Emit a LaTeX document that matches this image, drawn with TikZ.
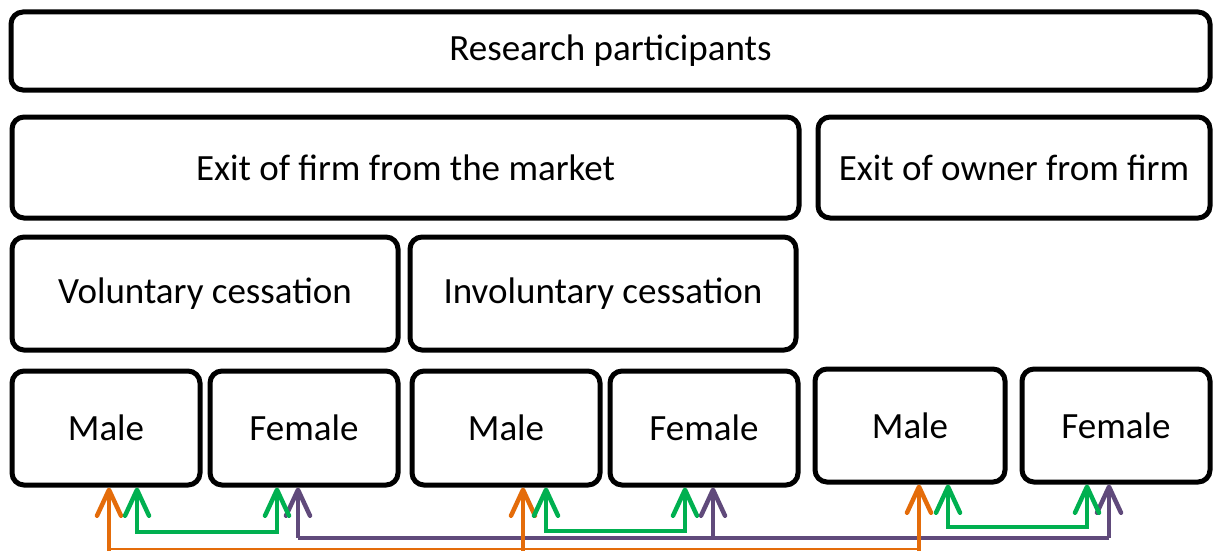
\documentclass[tikz,border=0pt]{standalone}
\usepackage{fontspec}
\setmainfont{Carlito}
\usetikzlibrary{arrows.meta}
\definecolor{corange}{HTML}{E46C0A}
\definecolor{cgreen}{HTML}{00B050}
\definecolor{cpurple}{HTML}{604A7B}
\tikzset{
  box/.style={draw, line width=5pt, rounded corners=12pt, inner sep=0pt,
    font=\fontsize{37}{42}\selectfont},
  barb/.tip={Straight Barb[length=26pt,width=24pt,round]},
  oarrow/.style={draw=corange, line width=4.5pt, -barb},
  oline/.style={draw=corange, line width=2.5pt},
  garrow/.style={draw=cgreen, line width=4.5pt, barb-barb},
  parrow/.style={draw=cpurple, line width=4.5pt, -barb},
  pline/.style={draw=cpurple, line width=4.5pt},
}
\begin{document}
\begin{tikzpicture}[x=1pt,y=-1pt]
\useasboundingbox (0,0) rectangle (1220,551);
\node[box, minimum width=1199pt, minimum height=78pt] (rp) at (610.5,51) {Research participants};
\node[box, minimum width=787pt, minimum height=101pt] (ef) at (405.5,167.5) {Exit of firm from the market};
\node[box, minimum width=392pt, minimum height=101pt] (eo) at (1014,167.5) {Exit of owner from firm};
\node[box, minimum width=386pt, minimum height=113pt] (vc) at (205,293.5) {Voluntary cessation};
\node[box, minimum width=386pt, minimum height=113pt] (ic) at (603,293.5) {Involuntary cessation};
\node[box, minimum width=188pt, minimum height=114pt] (m1) at (106,428) {Male};
\node[box, minimum width=188pt, minimum height=114pt] (f1) at (304,428) {Female};
\node[box, minimum width=188pt, minimum height=114pt] (m2) at (506,428) {Male};
\node[box, minimum width=188pt, minimum height=114pt] (f2) at (704,428) {Female};
\node[box, minimum width=190pt, minimum height=113pt] (m3) at (910,425.5) {Male};
\node[box, minimum width=188pt, minimum height=113pt] (f3) at (1116,425.5) {Female};
% orange
\coordinate (o1) at (109,549);
\coordinate (o2) at (523,549);
\coordinate (o3) at (919,549);
\coordinate (o1b) at (109,551);
\coordinate (o2b) at (523,551);
\coordinate (o3b) at (919,551);
\draw[oline] (o1) -- (o3);
% purple
\coordinate (p1) at (298,538);
\coordinate (p2) at (713,538);
\coordinate (p3) at (1109,538);
\draw[pline, line cap=butt] (p1) -- (p3);
\draw[parrow] (p1) -- (p1 |- f1.south);
\draw[parrow] (p2) -- (p2 |- f2.south);
\draw[parrow] (p3) -- (p3 |- f3.south);
\draw[oarrow] (o1b) -- (o1 |- m1.south);
\draw[oarrow] (o2b) -- (o2 |- m2.south);
\draw[oarrow] (o3b) -- (o3 |- m3.south);
% green
\coordinate (g1a) at (137,532);
\coordinate (g1b) at (277,532);
\coordinate (g2a) at (546,531);
\coordinate (g2b) at (685,531);
\coordinate (g3a) at (948,527);
\coordinate (g3b) at (1087,527);
\draw[garrow] (g1a |- m1.south) -- (g1a) -- (g1b) -- (g1b |- f1.south);
\draw[garrow] (g2a |- m2.south) -- (g2a) -- (g2b) -- (g2b |- f2.south);
\draw[garrow] (g3a |- m3.south) -- (g3a) -- (g3b) -- (g3b |- f3.south);
\end{tikzpicture}
\end{document}
